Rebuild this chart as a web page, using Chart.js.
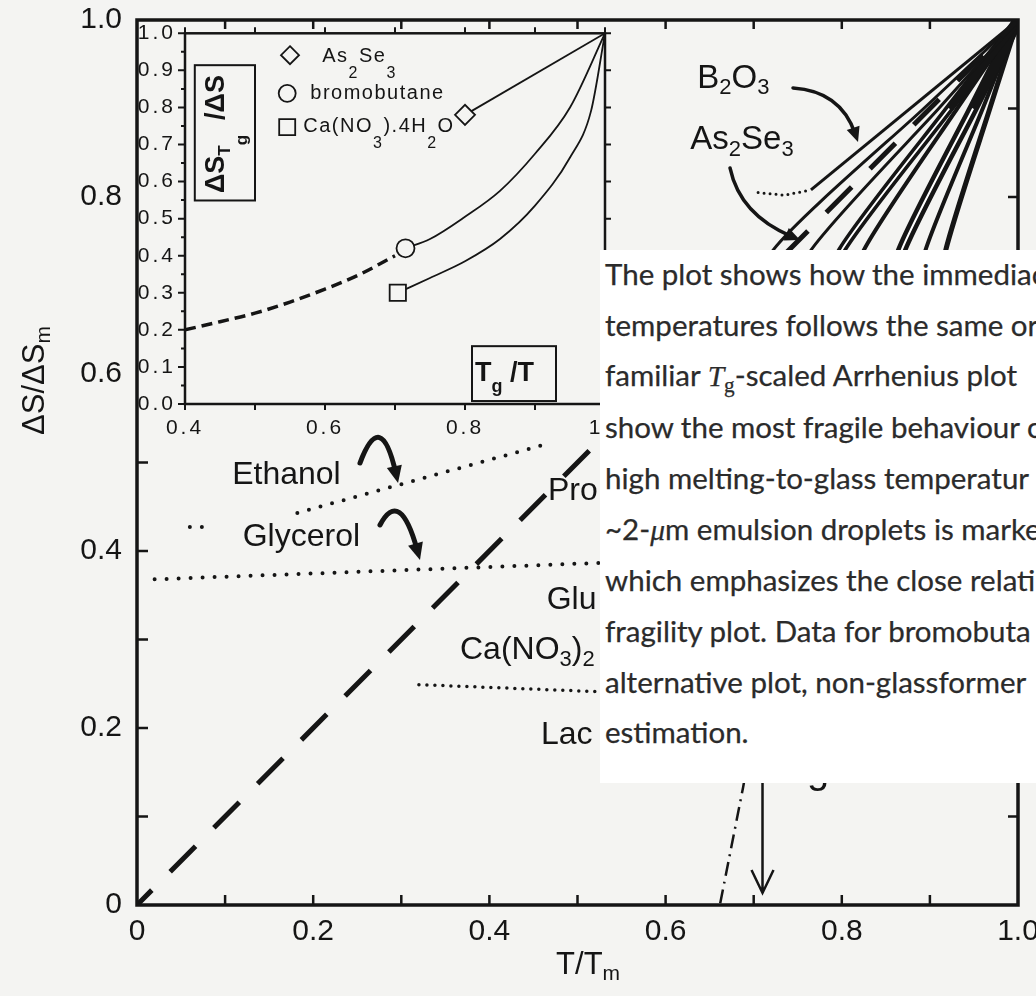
<!DOCTYPE html>
<html lang="en">
<head>
<meta charset="utf-8">
<title>Configurational entropy against reduced temperature</title>
<script src="https://cdn.jsdelivr.net/npm/chart.js@4.4.1/dist/chart.umd.min.js"></script>
<style>
  html, body { margin: 0; padding: 0; background: #f4f4f2; }
  #figure { position: relative; width: 1036px; height: 996px; overflow: hidden; background: #f4f4f2; }
  #main { position: absolute; left: 0; top: 0; }
  #inset { position: absolute; left: 130px; top: 20px; }
  #caption {
    position: absolute; left: 600px; top: 250px; width: 436px; height: 533px;
    background: #fff; overflow: hidden; white-space: nowrap;
    font-family: Lato, "Noto Sans", sans-serif; font-size: 29.5px; line-height: 50.7px; color: #2b2b2b;
    -webkit-text-stroke: 0.25px #2b2b2b;
  }
  #caption .lines { margin-top: -1px; padding-left: 5px; }
  #caption i { font-family: "Liberation Serif", serif; }
  #caption sub { font-family: "Liberation Serif", serif; font-size: 0.72em; line-height: 0; vertical-align: -0.3em; }
</style>
</head>
<body>
<div id="figure">
  <canvas id="main" width="1036" height="996"></canvas>
  <canvas id="inset" width="490" height="425"></canvas>
  <div id="caption"><div class="lines">
    <div>The plot shows how the immediac</div>
    <div>temperatures follows the same or</div>
    <div>familiar <i>T</i><sub>g</sub>-scaled Arrhenius plot</div>
    <div>show the most fragile behaviour c</div>
    <div>high melting-to-glass temperatur</div>
    <div>~2-<i>μ</i>m emulsion droplets is marke</div>
    <div>which emphasizes the close relati</div>
    <div>fragility plot. Data for bromobuta</div>
    <div>alternative plot, non-glassformer</div>
    <div>estimation.</div>
  </div></div>
</div>
<script>
const FONT = '"Liberation Sans", Arial, Helvetica, sans-serif';
const INK = '#151515';
const PAPER = '#f4f4f2';
Chart.defaults.font.family = FONT;

// ---------- main panel: ΔS/ΔSm against T/Tm ----------
const mainXLabels = ['0', '0.2', '0.4', '0.6', '0.8', '1.0'];
const mainYLabels = ['0', '0.2', '0.4', '0.6', '0.8', '1.0'];

const diagonal       = [[0, 0], [1, 1]];
const b2o3Curve      = [[0.765, 0.808], [1, 1]];
const b2o3Tail       = [[0.705, 0.805], [0.735, 0.802], [0.765, 0.808]];
const curveA         = [[1, 1], [0.893, 0.9], [0.722, 0.74], [0.66, 0.6], [0.60, 0.46]];
const curveA2        = [[1, 1], [0.910, 0.9], [0.765, 0.74], [0.70, 0.6], [0.64, 0.45]];
const curveB         = [[1, 1], [0.922, 0.9], [0.800, 0.74], [0.74, 0.6], [0.68, 0.44]];
const curveC         = [[1, 1], [0.931, 0.9], [0.825, 0.74], [0.775, 0.6], [0.72, 0.42]];
const curveD         = [[1, 1], [0.949, 0.9], [0.868, 0.74], [0.83, 0.6], [0.78, 0.38]];
const curveE         = [[1, 1], [0.960, 0.9], [0.895, 0.74], [0.865, 0.6], [0.83, 0.36]];
const curveF         = [[1, 1], [0.968, 0.9], [0.918, 0.74], [0.895, 0.6], [0.87, 0.32]];
const ethanolTrace   = [[0.182, 0.443], [0.469, 0.522]];
const ethanolStub    = [[0.060, 0.427], [0.085, 0.427]];
const glycerolTrace  = [[0.020, 0.368], [0.620, 0.390]];
const caNitrateTrace = [[0.320, 0.249], [0.525, 0.241]];
const kauzmannTrace  = [[0.662, 0.002], [0.688, 0.133], [0.700, 0.200]];

// ---------- inset: ΔS(Tg)/ΔS against Tg/T ----------
const insetXLabels = ['0.4', '0.6', '0.8', '1  '];
const insetYLabels = ['0.0', '0.1', '0.2', '0.3', '0.4', '0.5', '0.6', '0.7', '0.8', '0.9', '1.0'];

const insetAs2Se3      = [[0.800, 0.780], [1, 1]];
const insetBromobutane = [[0.715, 0.420], [0.75, 0.445], [0.80, 0.505], [0.85, 0.575], [0.90, 0.675], [0.95, 0.80], [1, 1]];
const insetCaNitrate   = [[0.704, 0.300], [0.75, 0.340], [0.80, 0.385], [0.85, 0.445], [0.90, 0.535], [0.95, 0.665], [0.98, 0.79], [1, 1]];
const insetExtrapolated = [[0.40, 0.200], [0.45, 0.222], [0.50, 0.245], [0.55, 0.275], [0.60, 0.310], [0.65, 0.350], [0.70, 0.400]];

// ---------- helpers ----------
const pts = a => a.map(([x, y]) => ({ x, y }));
function series(arr, style) {
  return Object.assign({
    data: pts(arr), borderColor: INK, backgroundColor: INK, pointRadius: 0,
    borderWidth: 2, fill: false, tension: 0, order: 5
  }, style);
}
const dotted = (gap, w) => ({ borderDash: [0, gap], borderCapStyle: 'round', borderWidth: w });

// keep the plot area exactly where layout.padding and the fixed axis sizes put it
function fixedAxis(size, horizontal) {
  return s => {
    if (horizontal) s.height = size; else s.width = size;
    s.paddingTop = s.paddingBottom = s.paddingLeft = s.paddingRight = 0;
  };
}

// parts: [text, sizeFactor, verticalShiftFactor]
function drawRich(ctx, parts, x, y, size, opt = {}) {
  const weight = opt.weight || 'normal';
  const m = parts.map(([t, f = 1, dy = 0]) => {
    ctx.font = `${weight} ${Math.round(size * f)}px ${FONT}`;
    return [t, f, dy, ctx.measureText(t).width];
  });
  const total = m.reduce((s, p) => s + p[3], 0);
  let cx = opt.align === 'center' ? x - total / 2 : x;
  ctx.textAlign = 'left';
  ctx.textBaseline = 'middle';
  for (const [t, f, dy, w] of m) {
    ctx.font = `${weight} ${Math.round(size * f)}px ${FONT}`;
    ctx.fillText(t, cx, y + dy * size);
    cx += w;
  }
  return total;
}

function curvedArrow(ctx, p0, c, p2, width, head) {
  const ang = Math.atan2(p2[1] - c[1], p2[0] - c[0]);
  const ux = Math.cos(ang), uy = Math.sin(ang);
  const end = [p2[0] - ux * head * 0.6, p2[1] - uy * head * 0.6];
  ctx.lineWidth = width;
  ctx.lineCap = 'round';
  ctx.beginPath();
  ctx.moveTo(p0[0], p0[1]);
  ctx.quadraticCurveTo(c[0], c[1], end[0], end[1]);
  ctx.stroke();
  const bx = p2[0] - ux * head, by = p2[1] - uy * head;
  const hw = head * 0.45;
  ctx.beginPath();
  ctx.moveTo(p2[0], p2[1]);
  ctx.lineTo(bx - uy * hw, by + ux * hw);
  ctx.lineTo(bx + uy * hw, by - ux * hw);
  ctx.closePath();
  ctx.fill();
}

// ---------- main panel annotations (data units) ----------
const mainLabels = [
  { parts: [['B'], ['2', 0.68, 0.3], ['O'], ['3', 0.68, 0.3]], at: [0.636, 0.934], size: 33 },
  { parts: [['As'], ['2', 0.68, 0.3], ['Se'], ['3', 0.68, 0.3]], at: [0.628, 0.864], size: 33 },
  { parts: [['Ethanol']], at: [0.108, 0.486], size: 32 },
  { parts: [['Glycerol']], at: [0.120, 0.416], size: 32 },
  { parts: [['Pro']], at: [0.4665, 0.468], size: 32 },
  { parts: [['Glu']], at: [0.465, 0.345], size: 32 },
  { parts: [['Ca(NO'], ['3', 0.68, 0.3], [')'], ['2', 0.68, 0.3]], at: [0.3666, 0.288], size: 32 },
  { parts: [['Lac']], at: [0.4586, 0.192], size: 32 },
  { parts: [['g']], at: [0.7605, 0.150], size: 40 }
];
const mainArrows = [
  { p0: [0.2531, 0.4994], c: [0.2770, 0.5627], p2: [0.2963, 0.4768], width: 5, head: 17 },
  { p0: [0.2758, 0.4294], c: [0.2985, 0.4718], p2: [0.3212, 0.3898], width: 5, head: 17 },
  { p0: [0.7446, 0.9232], c: [0.7985, 0.9198], p2: [0.8184, 0.8621], width: 3.5, head: 15 },
  { p0: [0.6731, 0.8328], c: [0.6844, 0.7797], p2: [0.7526, 0.7514], width: 3.5, head: 15 }
];
const tgArrow = { x: 0.71, from: 0.2, to: 0.0136 };

const mainDecor = {
  id: 'mainDecor',
  afterDraw(chart) {
    const { ctx, chartArea: a, scales: { x, y } } = chart;
    const X = v => x.getPixelForValue(v), Y = v => y.getPixelForValue(v);
    ctx.save();
    ctx.strokeStyle = INK;
    ctx.fillStyle = INK;

    // frame
    ctx.lineWidth = 3.5;
    ctx.strokeRect(a.left, a.top, a.right - a.left, a.bottom - a.top);

    // inward ticks every 0.1
    ctx.lineWidth = 2.5;
    ctx.beginPath();
    for (let i = 1; i < 10; i++) {
      const v = i / 10;
      ctx.moveTo(X(v), a.bottom); ctx.lineTo(X(v), a.bottom - 10);
      ctx.moveTo(X(v), a.top); ctx.lineTo(X(v), a.top + 9);
      ctx.moveTo(a.right, Y(v)); ctx.lineTo(a.right - 10, Y(v));
      if (v < 0.55) { ctx.moveTo(a.left, Y(v)); ctx.lineTo(a.left + 11, Y(v)); }
    }
    ctx.stroke();

    // curve labels
    for (const l of mainLabels) drawRich(ctx, l.parts, X(l.at[0]), Y(l.at[1]), l.size);

    // curved pointer arrows
    for (const ar of mainArrows) {
      curvedArrow(ctx, [X(ar.p0[0]), Y(ar.p0[1])], [X(ar.c[0]), Y(ar.c[1])], [X(ar.p2[0]), Y(ar.p2[1])], ar.width, ar.head);
    }

    // Tg marker arrow
    const tx = X(tgArrow.x), ty = Y(tgArrow.to);
    ctx.lineWidth = 2.5;
    ctx.lineCap = 'butt';
    ctx.beginPath();
    ctx.moveTo(tx, Y(tgArrow.from)); ctx.lineTo(tx, ty);
    ctx.moveTo(tx - 11, ty - 23); ctx.lineTo(tx, ty); ctx.lineTo(tx + 11, ty - 23);
    ctx.stroke();

    // axis titles
    drawRich(ctx, [['T/T'], ['m', 0.68, 0.3]], X(0.512), a.bottom + 60, 31, { align: 'center' });
    ctx.translate(a.left - 102, (a.top + a.bottom) / 2 - 82);
    ctx.rotate(-Math.PI / 2);
    drawRich(ctx, [['ΔS/ΔS'], ['m', 0.68, 0.3]], 0, 0, 31, { align: 'center' });
    ctx.restore();
  }
};

new Chart(document.getElementById('main'), {
  type: 'line',
  data: {
    datasets: [
      series(diagonal, { borderWidth: 5, borderDash: [36, 26], borderDashOffset: 15, order: 4 }),
      series(b2o3Curve, { borderWidth: 3 }),
      series(b2o3Tail, dotted(6, 3)),
      series(curveA, { borderWidth: 3, tension: 0.2 }),
      series(curveA2, { borderWidth: 3, tension: 0.2 }),
      series(curveB, { borderWidth: 9, tension: 0.2 }),
      series(curveC, { borderWidth: 4, tension: 0.2 }),
      series(curveD, { borderWidth: 11, tension: 0.2 }),
      series(curveE, { borderWidth: 4, tension: 0.2 }),
      series(curveF, { borderWidth: 5, tension: 0.2 }),
      series(curveB.slice(1), { borderColor: '#ffffff', borderWidth: 1.8, tension: 0.2, order: 1 }),
      series(curveD.slice(1), { borderColor: '#ffffff', borderWidth: 2, tension: 0.2, order: 1 }),
      series(ethanolTrace, dotted(12, 4)),
      series(ethanolStub, dotted(12, 4)),
      series(glycerolTrace, dotted(12, 4)),
      series(caNitrateTrace, dotted(8, 3.5)),
      series(kauzmannTrace, { borderWidth: 2.5, borderDash: [14, 6, 2, 6] })
    ]
  },
  options: {
    responsive: false,
    animation: false,
    devicePixelRatio: 1,
    events: [],
    layout: { padding: { top: 20, right: 18, left: 0, bottom: 0 } },
    plugins: { legend: { display: false }, tooltip: { enabled: false } },
    scales: {
      x: {
        type: 'linear', min: 0, max: 1,
        ticks: { stepSize: 0.2, autoSkip: false, maxRotation: 0, padding: 9, color: INK,
                 font: { size: 30 }, callback: (v, i) => mainXLabels[i] },
        grid: { display: false, drawTicks: false },
        border: { display: false },
        afterFit: fixedAxis(91, true)
      },
      y: {
        type: 'linear', min: 0, max: 1,
        ticks: { stepSize: 0.2, autoSkip: false, padding: 15, color: INK,
                 font: { size: 30 }, callback: (v, i) => mainYLabels[i] },
        grid: { display: false, drawTicks: false },
        border: { display: false },
        afterFit: fixedAxis(137, false)
      }
    }
  },
  plugins: [mainDecor]
});

// ---------- inset annotations (inset data units) ----------
const insetLegend = [
  { marker: 'diamond', at: [0.550, 0.941], textAt: [0.596, 0.937],
    parts: [['As'], ['2', 0.8, 0.85], ['Se'], ['3', 0.8, 0.85]] },
  { marker: 'circle', at: [0.546, 0.838], textAt: [0.579, 0.838], parts: [['bromobutane']] },
  { marker: 'square', at: [0.546, 0.747], textAt: [0.569, 0.749],
    parts: [['Ca(NO'], ['3', 0.8, 0.85], [').4H'], ['2', 0.8, 0.85], ['O']] }
];
const insetYTitleBox = { from: [0.414, 0.914], to: [0.500, 0.549], anchor: [0.4457, 0.569] };
const insetXTitleBox = { from: [0.810, 0.156], to: [0.930, 0.008], anchor: [0.8143, 0.0809] };

function drawMarker(ctx, kind, x, y) {
  ctx.beginPath();
  if (kind === 'diamond') {
    ctx.moveTo(x, y - 9); ctx.lineTo(x + 9, y); ctx.lineTo(x, y + 9); ctx.lineTo(x - 9, y); ctx.closePath();
  } else if (kind === 'circle') {
    ctx.arc(x, y, 8.5, 0, Math.PI * 2);
  } else {
    ctx.rect(x - 8, y - 8, 16, 16);
  }
  ctx.fill();
  ctx.stroke();
}

const insetDecor = {
  id: 'insetDecor',
  beforeDraw(chart) { chart.ctx.letterSpacing = '3px'; },
  beforeDatasetsDraw(chart) { chart.ctx.letterSpacing = '0px'; },
  afterDraw(chart) {
    const { ctx, chartArea: a, scales: { x, y } } = chart;
    const X = v => x.getPixelForValue(v), Y = v => y.getPixelForValue(v);
    ctx.save();
    ctx.strokeStyle = INK;
    ctx.fillStyle = INK;
    ctx.lineWidth = 2.5;
    ctx.strokeRect(a.left, a.top, a.right - a.left, a.bottom - a.top);

    // outward ticks
    ctx.lineWidth = 2;
    ctx.beginPath();
    for (let i = 0; i <= 20; i++) {
      const v = i / 20, len = i % 2 === 0 ? 7 : 4;
      ctx.moveTo(a.left, Y(v)); ctx.lineTo(a.left - len, Y(v));
      if (i % 2 === 0) { ctx.moveTo(a.right, Y(v)); ctx.lineTo(a.right + 6, Y(v)); }
    }
    for (let i = 4; i <= 10; i++) {
      const v = i / 10;
      ctx.moveTo(X(v), a.bottom); ctx.lineTo(X(v), a.bottom + 6);
      ctx.moveTo(X(v), a.top); ctx.lineTo(X(v), a.top - 6);
    }
    ctx.stroke();

    // legend
    ctx.lineWidth = 1.8;
    for (const item of insetLegend) {
      ctx.fillStyle = PAPER;
      drawMarker(ctx, item.marker, X(item.at[0]), Y(item.at[1]));
      ctx.fillStyle = INK;
      ctx.letterSpacing = '1.5px';
      drawRich(ctx, item.parts, X(item.textAt[0]), Y(item.textAt[1]), 20);
      ctx.letterSpacing = '0px';
    }

    // axis title boxes
    ctx.lineWidth = 2;
    for (const b of [insetYTitleBox, insetXTitleBox]) {
      ctx.strokeRect(X(b.from[0]), Y(b.from[1]), X(b.to[0]) - X(b.from[0]), Y(b.to[1]) - Y(b.from[1]));
    }
    drawRich(ctx, [['T'], ['g', 0.65, 0.5], [' /T']], X(insetXTitleBox.anchor[0]), Y(insetXTitleBox.anchor[1]), 27, { weight: 'bold' });
    ctx.translate(X(insetYTitleBox.anchor[0]), Y(insetYTitleBox.anchor[1]));
    ctx.rotate(-Math.PI / 2);
    drawRich(ctx, [['ΔS'], ['T', 0.62, 0.3], ['g', 0.62, 0.95], ['  /'], ['ΔS']], 0, 0, 27, { weight: 'bold' });
    ctx.restore();
  }
};

const markerRadius = r => c => (c.dataIndex === 0 ? r : 0);

new Chart(document.getElementById('inset'), {
  type: 'line',
  data: {
    datasets: [
      series(insetAs2Se3, { borderWidth: 1.8, pointStyle: 'rectRot', pointRadius: markerRadius(10),
        pointBackgroundColor: PAPER, pointBorderColor: INK, pointBorderWidth: 1.8 }),
      series(insetBromobutane, { borderWidth: 1.8, cubicInterpolationMode: 'monotone', pointStyle: 'circle',
        pointRadius: markerRadius(9), pointBackgroundColor: PAPER, pointBorderColor: INK, pointBorderWidth: 1.8 }),
      series(insetCaNitrate, { borderWidth: 1.8, cubicInterpolationMode: 'monotone', pointStyle: 'rect',
        pointRadius: markerRadius(11.5), pointBackgroundColor: PAPER, pointBorderColor: INK, pointBorderWidth: 1.8 }),
      series(insetExtrapolated, { borderWidth: 3.5, borderDash: [11, 6], cubicInterpolationMode: 'monotone', order: 6 })
    ]
  },
  options: {
    responsive: false,
    animation: false,
    devicePixelRatio: 1,
    events: [],
    layout: { padding: { top: 13, right: 15, left: 0, bottom: 0 } },
    plugins: { legend: { display: false }, tooltip: { enabled: false } },
    scales: {
      x: {
        type: 'linear', min: 0.4, max: 1,
        ticks: { stepSize: 0.2, autoSkip: false, maxRotation: 0, padding: 12, color: INK,
                 font: { size: 21 }, callback: (v, i) => insetXLabels[i] },
        grid: { display: false, drawTicks: false },
        border: { display: false },
        afterFit: fixedAxis(41, true)
      },
      y: {
        type: 'linear', min: 0, max: 1,
        ticks: { stepSize: 0.1, autoSkip: false, padding: 9, color: INK,
                 font: { size: 21 }, callback: (v, i) => insetYLabels[i] },
        grid: { display: false, drawTicks: false },
        border: { display: false },
        afterFit: fixedAxis(55, false)
      }
    }
  },
  plugins: [insetDecor]
});
</script>
</body>
</html>
